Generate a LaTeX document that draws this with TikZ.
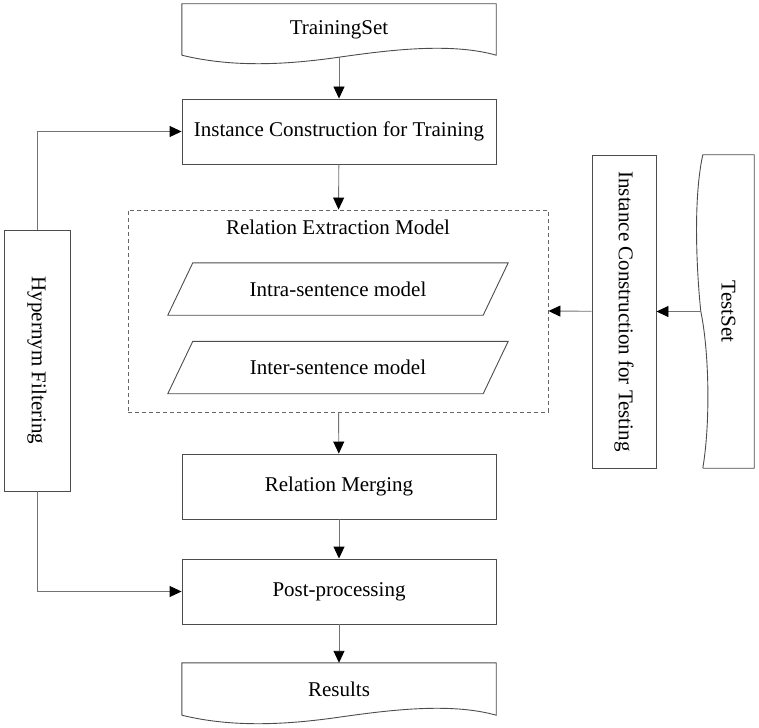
\documentclass[tikz,border=0pt]{standalone}
\usepackage{fontspec}
\setmainfont{Liberation Serif}
\usetikzlibrary{positioning,arrows.meta,calc}
\tikzset{
	->,
	>={Triangle[length=12pt,width=11pt,color=black]},
	flowline/.style={draw=black!55, line width=0.9pt},
	box/.style={draw=black!70, line width=0.9pt, rectangle, inner sep=0pt,
		minimum width=314pt, minimum height=65pt},
	sidebox/.style={draw=black!70, line width=0.9pt, rectangle, inner sep=0pt,
		minimum width=65pt},
	doc/.style={rectangle, inner sep=0pt, minimum width=314pt},
	docline/.style={-, draw=black!70, line width=0.9pt},
	modelbox/.style={rectangle, inner sep=0pt, minimum width=315pt, minimum height=52pt},
	groupbox/.style={draw=black!60, line width=0.9pt, dash pattern=on 4pt off 3pt,
		rectangle, inner sep=0pt, minimum width=420pt, minimum height=202pt},
}
% outline of a document with a wavy bottom
\newcommand{\docbottom}[1]{
	\draw[docline] (#1.south west) -- (#1.north west) -- (#1.north east) -- (#1.south east)
		.. controls ($(#1.south east)+(-46,-13)$) and ($(#1.south east)+(-108,-5)$) .. ($(#1.south)+(0,2)$)
		.. controls ($(#1.south)+(-49,9)$) and ($(#1.south west)+(53,13)$) .. (#1.south west);
}
% parallelogram round a model node
\newcommand{\slanted}[1]{
	\draw[docline] ($(#1.south west)+(-12.5,0)$) -- ($(#1.north west)+(12.5,0)$)
		-- ($(#1.north east)+(12.5,0)$) -- ($(#1.south east)+(-12.5,0)$) -- cycle;
}

\begin{document}
\begin{tikzpicture}[x=1pt, y=-1pt, font=\fontsize{21}{25}\selectfont]
	\useasboundingbox (0,0) rectangle (759,727);

	% middle column
	\node[doc, minimum height=51pt] (trainset) at (339,29.5) {TrainingSet};
	\docbottom{trainset}
	\node[box] (trainbox) at (339,131.5) {Instance Construction for Training};

	\node[groupbox] (rem) at (338,311) {};
	\node (remtitle) at (338,227) {Relation Extraction Model};
	\node[modelbox] (intra) at (338,289) {Intra-sentence model};
	\slanted{intra}
	\node[modelbox] (inter) at (338,367.5) {Inter-sentence model};
	\slanted{inter}

	\node[box] (merge) at (339,486.5) {Relation Merging};
	\node[box] (post) at (339,591.5) {Post-processing};
	\node[doc, minimum height=52pt] (results) at (339,689) {Results};
	\docbottom{results}

	% left and right columns
	\node[sidebox, minimum width=66pt, minimum height=261pt] (hyper) at (37,360.5)
		{\rotatebox{-90}{Hypernym Filtering}};
	\node[sidebox, minimum width=64pt, minimum height=313pt] (testbox) at (624,311.5)
		{\rotatebox{-90}{Instance Construction for Testing}};
	\node[rectangle, inner sep=0pt, minimum width=51pt, minimum height=313pt] (testset)
		at (728.5,311.5) {\rotatebox{-90}{TestSet}};
	\draw[docline] (testset.south west) -- (testset.south east) -- (testset.north east)
		-- (testset.north west)
		.. controls ($(testset.north west)+(-10,45)$) and ($(testset.west)+(-6,-38)$) .. ($(testset.west)+(-2,0)$)
		.. controls ($(testset.west)+(6,38)$) and ($(testset.south west)+(8,-48)$) .. (testset.south west);

	% connectors
	\draw[flowline] ($(trainset.south)+(0,2)$) -- (trainbox);
	\draw[flowline] (trainbox) -- (rem);
	\draw[flowline] (rem) -- (merge);
	\draw[flowline] (merge) -- (post);
	\draw[flowline] (post) -- (results);
	\draw[flowline] ($(testset.west)+(-2,0)$) -- (testbox);
	\draw[flowline] (testbox) -- (rem.east);
	\draw[flowline] (hyper.north) |- (trainbox.west);
	\draw[flowline] (hyper.south) |- (post.west);
\end{tikzpicture}
\end{document}
